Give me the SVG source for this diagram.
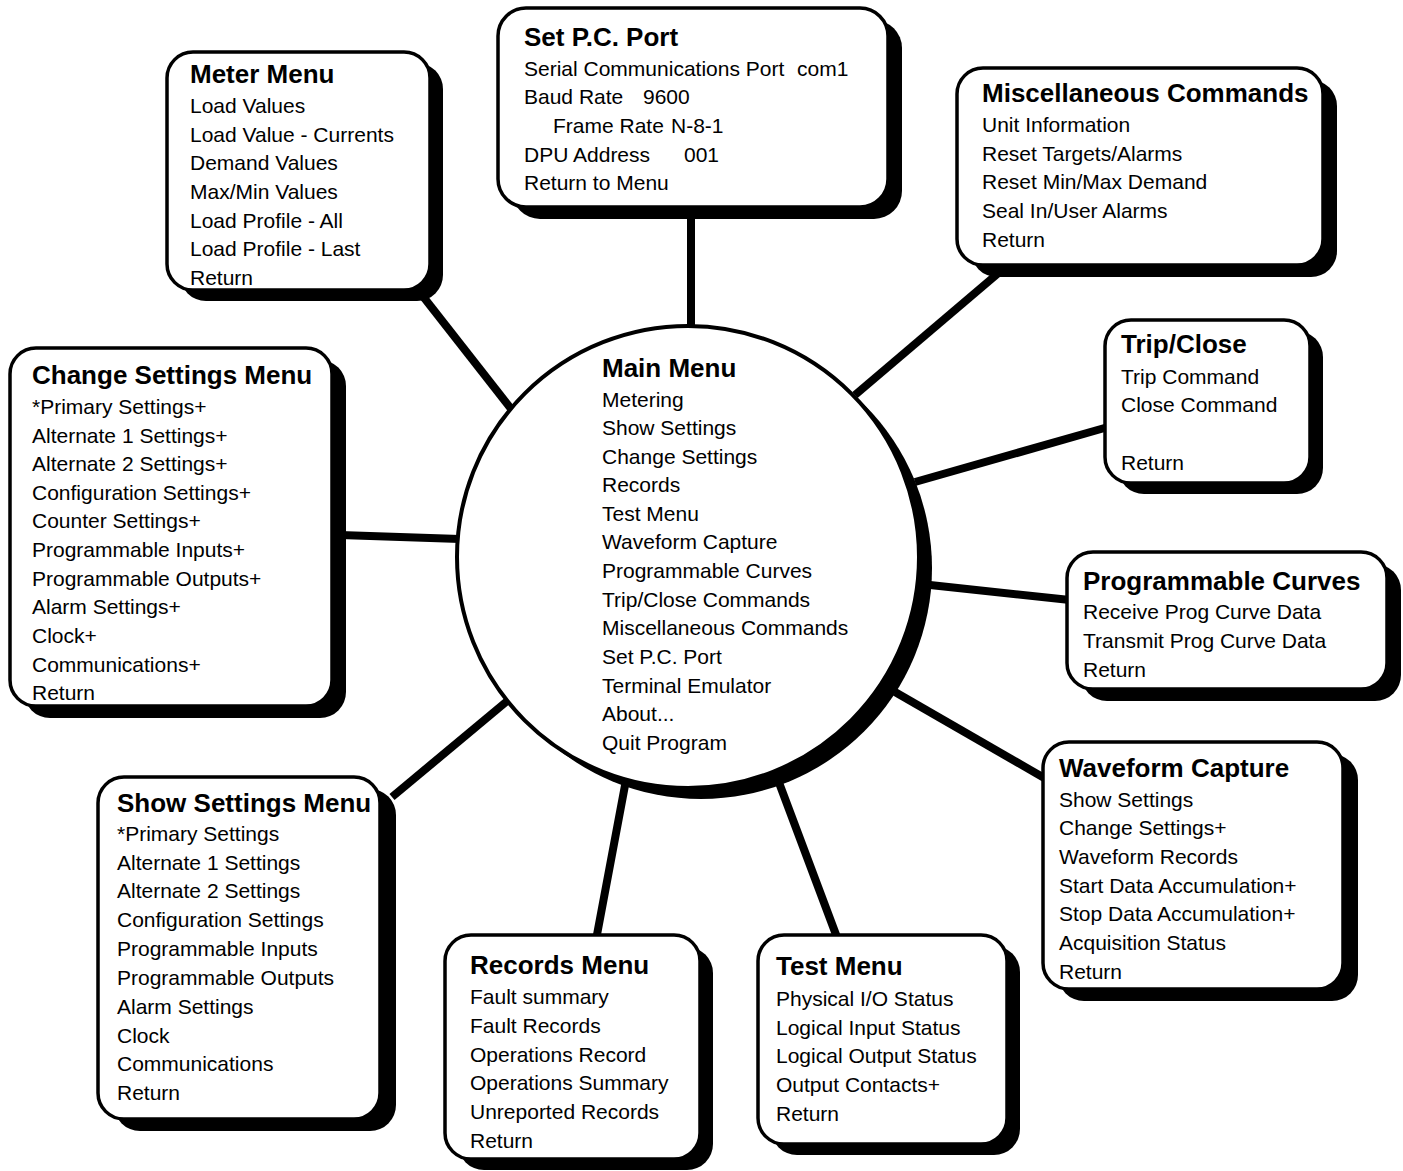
<svg xmlns="http://www.w3.org/2000/svg" width="1403" height="1171" viewBox="0 0 1403 1171">
  <style>
    .bg { fill: #ffffff; }
    .shadow { fill: #000000; }
    .box { fill: #ffffff; stroke: #000000; stroke-width: 3.5; }
    .conn { stroke: #000000; stroke-width: 8; stroke-linecap: butt; fill: none; }
    text { font-family: "Liberation Sans", Arial, Helvetica, sans-serif; fill: #000000; }
    .h { font-size: 26px; font-weight: bold; }
    .i { font-size: 21px; }
  </style>
  <rect class="bg" x="0" y="0" width="1403" height="1171"/>

  <!-- spokes from the main menu out to each submenu -->
  <g id="connectors">
    <line class="conn" x1="691" y1="205" x2="691" y2="335"/>
    <line class="conn" x1="418" y1="290" x2="512" y2="410"/>
    <line class="conn" x1="1002" y1="270" x2="855" y2="395"/>
    <line class="conn" x1="1108" y1="427" x2="915" y2="482"/>
    <line class="conn" x1="1070" y1="600" x2="930" y2="585"/>
    <line class="conn" x1="1046" y1="779" x2="895" y2="692"/>
    <line class="conn" x1="838" y1="940" x2="778" y2="780"/>
    <line class="conn" x1="596" y1="940" x2="626" y2="780"/>
    <line class="conn" x1="392" y1="797" x2="512" y2="697"/>
    <line class="conn" x1="340" y1="535" x2="460" y2="539"/>
  </g>

  <g id="main-menu">
    <circle class="shadow" cx="701" cy="568" r="231"/>
    <circle cx="688" cy="557" r="231" fill="#ffffff" stroke="#000000" stroke-width="4"/>
    <text class="h" x="602" y="377">Main Menu</text>
    <text class="i" x="602" y="407">Metering</text>
    <text class="i" x="602" y="435">Show Settings</text>
    <text class="i" x="602" y="464">Change Settings</text>
    <text class="i" x="602" y="492">Records</text>
    <text class="i" x="602" y="521">Test Menu</text>
    <text class="i" x="602" y="549">Waveform Capture</text>
    <text class="i" x="602" y="578">Programmable Curves</text>
    <text class="i" x="602" y="607">Trip/Close Commands</text>
    <text class="i" x="602" y="635">Miscellaneous Commands</text>
    <text class="i" x="602" y="664">Set P.C. Port</text>
    <text class="i" x="602" y="693">Terminal Emulator</text>
    <text class="i" x="602" y="721">About...</text>
    <text class="i" x="602" y="750">Quit Program</text>
  </g>

  <g id="meter-menu">
    <rect class="shadow" x="180" y="63" width="263" height="238" rx="26"/>
    <rect class="box" x="167" y="52" width="263" height="238" rx="26"/>
    <text class="h" x="190" y="83">Meter Menu</text>
    <text class="i" x="190" y="113">Load Values</text>
    <text class="i" x="190" y="142">Load Value - Currents</text>
    <text class="i" x="190" y="170">Demand Values</text>
    <text class="i" x="190" y="199">Max/Min Values</text>
    <text class="i" x="190" y="228">Load Profile - All</text>
    <text class="i" x="190" y="256">Load Profile - Last</text>
    <text class="i" x="190" y="285">Return</text>
  </g>

  <g id="set-pc-port">
    <rect class="shadow" x="512" y="20" width="390" height="199" rx="28"/>
    <rect class="box" x="498" y="8" width="390" height="199" rx="28"/>
    <text class="h" x="524" y="46">Set P.C. Port</text>
    <text class="i" x="524" y="76">Serial Communications Port<tspan x="797">com1</tspan></text>
    <text class="i" x="524" y="104">Baud Rate<tspan x="643">9600</tspan></text>
    <text class="i" x="553" y="133">Frame Rate<tspan x="671">N-8-1</tspan></text>
    <text class="i" x="524" y="162">DPU Address<tspan x="684">001</tspan></text>
    <text class="i" x="524" y="190">Return to Menu</text>
  </g>

  <g id="misc-commands">
    <rect class="shadow" x="971" y="80" width="366" height="197" rx="26"/>
    <rect class="box" x="957" y="68" width="366" height="197" rx="26"/>
    <text class="h" x="982" y="102">Miscellaneous Commands</text>
    <text class="i" x="982" y="132">Unit Information</text>
    <text class="i" x="982" y="161">Reset Targets/Alarms</text>
    <text class="i" x="982" y="189">Reset Min/Max Demand</text>
    <text class="i" x="982" y="218">Seal In/User Alarms</text>
    <text class="i" x="982" y="247">Return</text>
  </g>

  <g id="trip-close">
    <rect class="shadow" x="1118" y="331" width="205" height="163" rx="26"/>
    <rect class="box" x="1105" y="320" width="205" height="163" rx="26"/>
    <text class="h" x="1121" y="353">Trip/Close</text>
    <text class="i" x="1121" y="384">Trip Command</text>
    <text class="i" x="1121" y="412">Close Command</text>
    <text class="i" x="1121" y="470">Return</text>
  </g>

  <g id="programmable-curves">
    <rect class="shadow" x="1081" y="564" width="320" height="137" rx="26"/>
    <rect class="box" x="1067" y="552" width="320" height="137" rx="26"/>
    <text class="h" x="1083" y="590">Programmable Curves</text>
    <text class="i" x="1083" y="619">Receive Prog Curve Data</text>
    <text class="i" x="1083" y="648">Transmit Prog Curve Data</text>
    <text class="i" x="1083" y="677">Return</text>
  </g>

  <g id="waveform-capture">
    <rect class="shadow" x="1058" y="754" width="300" height="247" rx="26"/>
    <rect class="box" x="1043" y="742" width="300" height="247" rx="26"/>
    <text class="h" x="1059" y="777">Waveform Capture</text>
    <text class="i" x="1059" y="807">Show Settings</text>
    <text class="i" x="1059" y="835">Change Settings+</text>
    <text class="i" x="1059" y="864">Waveform Records</text>
    <text class="i" x="1059" y="893">Start Data Accumulation+</text>
    <text class="i" x="1059" y="921">Stop Data Accumulation+</text>
    <text class="i" x="1059" y="950">Acquisition Status</text>
    <text class="i" x="1059" y="979">Return</text>
  </g>

  <g id="test-menu">
    <rect class="shadow" x="771" y="946" width="249" height="209" rx="26"/>
    <rect class="box" x="758" y="935" width="249" height="209" rx="26"/>
    <text class="h" x="776" y="975">Test Menu</text>
    <text class="i" x="776" y="1006">Physical I/O Status</text>
    <text class="i" x="776" y="1035">Logical Input Status</text>
    <text class="i" x="776" y="1063">Logical Output Status</text>
    <text class="i" x="776" y="1092">Output Contacts+</text>
    <text class="i" x="776" y="1121">Return</text>
  </g>

  <g id="records-menu">
    <rect class="shadow" x="458" y="947" width="255" height="223" rx="26"/>
    <rect class="box" x="445" y="935" width="255" height="224" rx="26"/>
    <text class="h" x="470" y="974">Records Menu</text>
    <text class="i" x="470" y="1004">Fault summary</text>
    <text class="i" x="470" y="1033">Fault Records</text>
    <text class="i" x="470" y="1062">Operations Record</text>
    <text class="i" x="470" y="1090">Operations Summary</text>
    <text class="i" x="470" y="1119">Unreported Records</text>
    <text class="i" x="470" y="1148">Return</text>
  </g>

  <g id="show-settings-menu">
    <rect class="shadow" x="114" y="789" width="282" height="342" rx="26"/>
    <rect class="box" x="98" y="777" width="282" height="342" rx="26"/>
    <text class="h" x="117" y="812">Show Settings Menu</text>
    <text class="i" x="117" y="841">*Primary Settings</text>
    <text class="i" x="117" y="870">Alternate 1 Settings</text>
    <text class="i" x="117" y="898">Alternate 2 Settings</text>
    <text class="i" x="117" y="927">Configuration Settings</text>
    <text class="i" x="117" y="956">Programmable Inputs</text>
    <text class="i" x="117" y="985">Programmable Outputs</text>
    <text class="i" x="117" y="1014">Alarm Settings</text>
    <text class="i" x="117" y="1043">Clock</text>
    <text class="i" x="117" y="1071">Communications</text>
    <text class="i" x="117" y="1100">Return</text>
  </g>

  <g id="change-settings-menu">
    <rect class="shadow" x="24" y="360" width="322" height="358" rx="26"/>
    <rect class="box" x="10" y="348" width="322" height="358" rx="26"/>
    <text class="h" x="32" y="384">Change Settings Menu</text>
    <text class="i" x="32" y="414">*Primary Settings+</text>
    <text class="i" x="32" y="443">Alternate 1 Settings+</text>
    <text class="i" x="32" y="471">Alternate 2 Settings+</text>
    <text class="i" x="32" y="500">Configuration Settings+</text>
    <text class="i" x="32" y="528">Counter Settings+</text>
    <text class="i" x="32" y="557">Programmable Inputs+</text>
    <text class="i" x="32" y="586">Programmable Outputs+</text>
    <text class="i" x="32" y="614">Alarm Settings+</text>
    <text class="i" x="32" y="643">Clock+</text>
    <text class="i" x="32" y="672">Communications+</text>
    <text class="i" x="32" y="700">Return</text>
  </g>
</svg>
